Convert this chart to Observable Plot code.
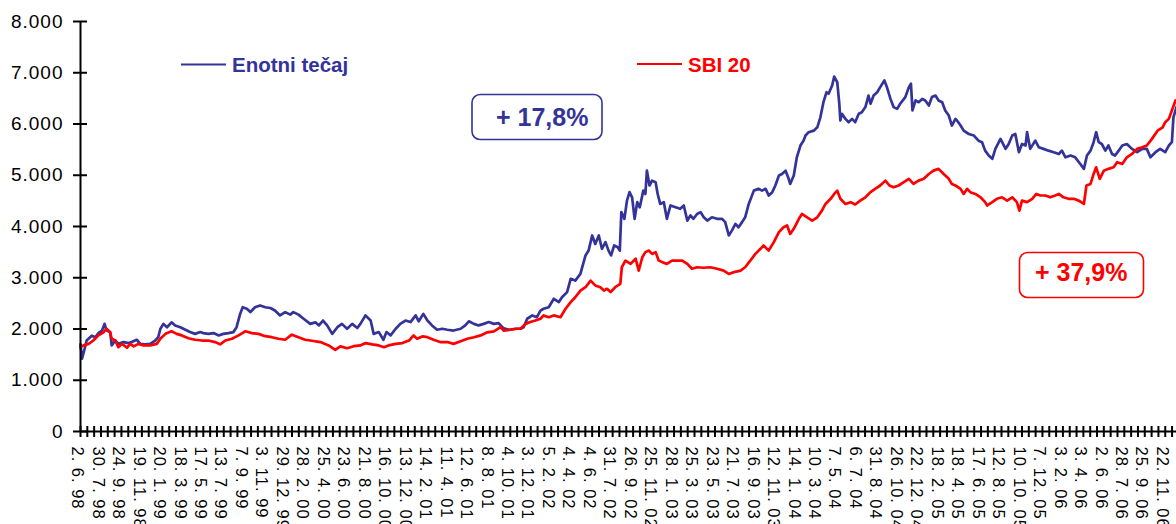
<!DOCTYPE html>
<html><head><meta charset="utf-8">
<script src="https://cdn.jsdelivr.net/npm/d3@7"></script>
<script src="https://cdn.jsdelivr.net/npm/@observablehq/plot@0.6"></script>
<style>
body{margin:0;background:#fff;}
#wrap{position:relative;width:1176px;height:524px;overflow:hidden;font-family:"Liberation Sans",Arial,sans-serif;}
g[aria-label="x-axis tick label"] text{letter-spacing:1px;}
g[aria-label="y-axis tick label"] text{letter-spacing:1px;}
#overlay{position:absolute;left:0;top:0;}
</style></head><body><div id="wrap"></div>
<script>
// trading-day index; one date label every 40 trading days
const labelStep = 40;
const lastDay = 2142;
const tickLabels = ["2. 6. 98","30. 7. 98","24. 9. 98","19. 11. 98","20. 1. 99","18. 3. 99","17. 5. 99","13. 7. 99","7. 9. 99","3. 11. 99","29. 12. 99","28. 2. 00","25. 4. 00","23. 6. 00","21. 8. 00","16. 10. 00","13. 12. 00","14. 2. 01","11. 4. 01","12. 6. 01","8. 8. 01","4. 10. 01","3. 12. 01","5. 2. 02","4. 4. 02","4. 6. 02","31. 7. 02","26. 9. 02","25. 11. 02","28. 1. 03","25. 3. 03","23. 5. 03","21. 7. 03","16. 9. 03","12. 11. 03","14. 1. 04","10. 3. 04","7. 5. 04","6. 7. 04","31. 8. 04","26. 10. 04","22. 12. 04","18. 2. 05","18. 4. 05","17. 6. 05","12. 8. 05","10. 10. 05","7. 12. 05","3. 2. 06","3. 4. 06","2. 6. 06","28. 7. 06","25. 9. 06","22. 11. 06"];
const yTicks = [0,1000,2000,3000,4000,5000,6000,7000,8000];

// [trading day, value]
const enotniTecaj = [[0,1700],[3,1420],[8,1610],[12,1775],[22,1870],[29,1840],[35,1920],[42,1970],[47,2100],[51,1970],[58,1940],[61,1680],[68,1775],[74,1710],[84,1745],[94,1725],[100,1745],[110,1790],[117,1710],[126,1700],[136,1710],[146,1775],[152,1840],[156,2000],[162,2100],[169,2035],[178,2130],[185,2070],[195,2035],[205,1985],[214,1940],[224,1905],[234,1940],[240,1920],[250,1905],[260,1920],[270,1875],[279,1905],[289,1920],[299,1940],[305,2035],[312,2295],[317,2425],[325,2395],[332,2330],[341,2425],[351,2460],[361,2425],[371,2410],[380,2360],[390,2265],[400,2330],[410,2280],[416,2330],[426,2280],[436,2200],[449,2100],[459,2130],[466,2070],[474,2165],[482,2070],[492,1905],[502,2035],[511,2100],[521,2005],[531,2100],[541,2020],[547,2100],[557,2265],[567,2165],[573,1905],[583,1940],[592,1790],[598,1940],[606,1875],[616,2005],[625,2100],[635,2165],[645,2135],[655,2265],[661,2150],[670,2295],[678,2165],[687,2070],[697,1985],[707,2005],[717,1985],[729,1970],[743,2005],[752,2070],[759,2150],[769,2100],[778,2070],[788,2100],[798,2135],[808,2100],[817,2115],[826,2020],[837,1985],[850,2005],[860,2005],[866,2035],[873,2200],[883,2265],[892,2230],[899,2360],[905,2395],[915,2425],[925,2590],[935,2525],[941,2620],[951,2720],[958,2980],[967,2945],[977,3075],[987,3435],[993,3530],[1000,3825],[1006,3660],[1013,3825],[1019,3565],[1026,3695],[1032,3530],[1037,3435],[1043,3630],[1050,3595],[1054,3530],[1057,4280],[1063,4150],[1068,4505],[1073,4670],[1078,4570],[1083,4150],[1088,4475],[1093,4375],[1100,4700],[1104,4635],[1107,5090],[1112,4800],[1117,4895],[1124,4865],[1128,4635],[1133,4440],[1140,4475],[1146,4150],[1153,4410],[1163,4375],[1172,4345],[1179,4410],[1186,4115],[1192,4215],[1198,4150],[1205,4245],[1212,4280],[1218,4180],[1225,4115],[1234,4180],[1244,4150],[1254,4150],[1260,4085],[1267,3825],[1273,3920],[1280,4050],[1286,3985],[1293,4085],[1299,4180],[1306,4440],[1316,4700],[1325,4735],[1332,4700],[1339,4735],[1345,4605],[1352,4670],[1358,4800],[1365,4995],[1371,5025],[1378,5090],[1384,4930],[1387,4830],[1394,4995],[1400,5350],[1407,5580],[1413,5675],[1417,5775],[1423,5840],[1433,5870],[1440,5935],[1446,6130],[1452,6425],[1458,6620],[1462,6590],[1469,6750],[1473,6925],[1479,6815],[1483,6395],[1485,6070],[1488,6200],[1495,6100],[1501,6035],[1508,6100],[1514,6035],[1521,6200],[1527,6230],[1534,6330],[1540,6555],[1544,6395],[1550,6555],[1557,6620],[1563,6720],[1571,6850],[1576,6720],[1583,6490],[1589,6330],[1596,6295],[1602,6395],[1612,6525],[1619,6720],[1623,6785],[1626,6265],[1632,6460],[1638,6425],[1645,6490],[1651,6460],[1658,6360],[1664,6525],[1671,6555],[1677,6460],[1684,6425],[1690,6265],[1697,6165],[1703,5970],[1710,6100],[1713,6070],[1720,5970],[1726,5870],[1736,5805],[1746,5775],[1755,5675],[1762,5645],[1768,5480],[1775,5385],[1782,5320],[1788,5515],[1798,5710],[1808,5515],[1814,5610],[1821,5775],[1827,5805],[1834,5450],[1840,5610],[1847,5580],[1850,5840],[1856,5515],[1866,5675],[1873,5545],[1882,5515],[1892,5480],[1902,5450],[1912,5415],[1918,5480],[1925,5350],[1935,5385],[1944,5350],[1954,5220],[1961,5125],[1967,5385],[1974,5480],[1980,5645],[1985,5840],[1990,5645],[1996,5610],[2003,5480],[2009,5580],[2016,5415],[2022,5385],[2029,5480],[2036,5580],[2045,5610],[2055,5515],[2065,5450],[2075,5515],[2084,5515],[2091,5350],[2101,5450],[2110,5515],[2120,5450],[2127,5580],[2133,5645],[2136,6130],[2142,6330]];

const sbi20 = [[0,1645],[6,1680],[16,1710],[25,1775],[35,1875],[45,1935],[51,2005],[58,1935],[61,1810],[68,1775],[74,1645],[81,1710],[91,1635],[97,1710],[104,1660],[113,1710],[123,1680],[136,1680],[149,1710],[156,1810],[166,1905],[178,1955],[188,1905],[198,1875],[211,1820],[224,1790],[237,1775],[250,1775],[263,1745],[273,1700],[283,1775],[296,1810],[309,1875],[322,1955],[335,1920],[348,1905],[361,1860],[374,1840],[387,1810],[400,1790],[413,1890],[426,1840],[439,1790],[449,1775],[469,1745],[485,1680],[498,1595],[508,1660],[521,1625],[534,1665],[547,1680],[557,1725],[570,1700],[583,1680],[593,1645],[602,1680],[616,1710],[629,1725],[642,1775],[651,1875],[658,1810],[668,1855],[678,1840],[690,1790],[703,1745],[717,1745],[729,1710],[743,1760],[756,1810],[769,1840],[782,1875],[795,1935],[808,1955],[821,2035],[827,1970],[840,1985],[853,2005],[860,2005],[870,2100],[879,2135],[889,2165],[899,2200],[905,2265],[915,2230],[925,2265],[938,2230],[948,2395],[958,2525],[967,2620],[977,2750],[987,2815],[997,2945],[1006,2850],[1016,2815],[1023,2750],[1029,2785],[1036,2720],[1045,2815],[1055,2880],[1058,3205],[1065,3335],[1075,3270],[1085,3370],[1091,3140],[1098,3400],[1104,3500],[1111,3530],[1117,3465],[1124,3500],[1130,3335],[1137,3305],[1146,3270],[1156,3335],[1166,3335],[1176,3335],[1186,3270],[1195,3175],[1205,3205],[1218,3195],[1231,3205],[1244,3175],[1257,3140],[1267,3075],[1277,3110],[1286,3130],[1290,3140],[1299,3205],[1309,3335],[1319,3465],[1329,3565],[1335,3630],[1345,3530],[1355,3695],[1365,3890],[1374,3985],[1381,4020],[1387,3855],[1394,3955],[1404,4150],[1410,4245],[1420,4180],[1430,4115],[1440,4180],[1449,4310],[1456,4440],[1466,4540],[1473,4635],[1479,4700],[1485,4540],[1495,4440],[1505,4475],[1514,4430],[1524,4505],[1534,4570],[1544,4670],[1553,4735],[1563,4800],[1573,4895],[1581,4800],[1589,4765],[1599,4800],[1609,4865],[1619,4930],[1628,4830],[1638,4895],[1648,4930],[1658,5025],[1667,5090],[1677,5125],[1687,5025],[1697,4930],[1703,4830],[1710,4800],[1720,4735],[1726,4635],[1733,4735],[1739,4670],[1749,4635],[1759,4570],[1768,4475],[1772,4410],[1782,4475],[1791,4540],[1801,4570],[1811,4505],[1821,4570],[1830,4475],[1835,4310],[1840,4505],[1850,4475],[1860,4540],[1868,4635],[1876,4605],[1886,4605],[1895,4570],[1905,4605],[1912,4635],[1921,4570],[1931,4540],[1941,4540],[1951,4505],[1961,4440],[1966,4800],[1974,4830],[1980,5025],[1985,5155],[1992,4930],[2000,5090],[2009,5125],[2019,5155],[2026,5255],[2036,5220],[2045,5350],[2055,5415],[2065,5515],[2075,5545],[2084,5580],[2094,5710],[2105,5870],[2115,5935],[2120,6035],[2127,6100],[2133,6265],[2140,6460]];

const seriesNames = ["Enotni tečaj", "SBI 20"];
const changeLabels = ["+ 17,8%", "+ 37,9%"];

const BLUE = "#333399", RED = "#ff0000";
const labelTicks = tickLabels.map((_, i) => i * labelStep);
const minorTicks = d3.range(0, lastDay, labelStep / 3);
const fmtY = d => d === 0 ? "0" : d3.format(",")(d).replace(/,/g, ".");

const plot = Plot.plot({
  width: 1176, height: 524,
  marginLeft: 80, marginRight: 0, marginTop: 21, marginBottom: 93,
  style: {fontFamily: '"Liberation Sans", Arial, sans-serif', background: "#fff", color: "#000", overflow: "visible"},
  x: {type: "linear", domain: [0, lastDay]},
  y: {domain: [0, 8000]},
  marks: [
    Plot.axisY({ticks: yTicks, tickSize: 14, dx: 7, tickFormat: () => "", strokeWidth: 2}),
    Plot.axisY({ticks: yTicks, tickSize: 0, tickPadding: 17, tickFormat: fmtY, fontSize: 19}),
    Plot.axisX({ticks: minorTicks, tickSize: 11, dy: -5, tickFormat: () => "", strokeWidth: 2}),
    Plot.axisX({ticks: labelTicks, tickSize: 0, tickPadding: 15, tickRotate: 90, dx: -3, fontSize: 16.5,
      tickFormat: d => tickLabels[Math.round(d / labelStep)]}),
    Plot.line(enotniTecaj, {x: d => d[0], y: d => d[1], stroke: BLUE, strokeWidth: 2.7}),
    Plot.line(sbi20, {x: d => d[0], y: d => d[1], stroke: RED, strokeWidth: 2.7}),
    Plot.ruleX([0], {stroke: "#000", strokeWidth: 2}),
    Plot.ruleY([0], {stroke: "#000", strokeWidth: 2})
  ]
});
const wrap = document.getElementById("wrap");
wrap.appendChild(plot);

// legend and change annotations overlay
const ov = d3.select(wrap).append("svg").attr("id", "overlay").attr("width", 1176).attr("height", 524)
  .style("font-family", '"Liberation Sans", Arial, sans-serif').style("font-weight", "bold");
ov.append("line").attr("x1", 181).attr("x2", 226).attr("y1", 64.5).attr("y2", 64.5).attr("stroke", BLUE).attr("stroke-width", 2);
ov.append("text").attr("x", 232).attr("y", 71.5).attr("font-size", 20.5).attr("fill", BLUE).text(seriesNames[0]);
ov.append("line").attr("x1", 637).attr("x2", 682).attr("y1", 64).attr("y2", 64).attr("stroke", RED).attr("stroke-width", 2);
ov.append("text").attr("x", 688).attr("y", 71.5).attr("font-size", 20.5).attr("fill", RED).text(seriesNames[1]);

ov.append("rect").attr("x", 472).attr("y", 94.5).attr("width", 130).attr("height", 45).attr("rx", 8)
  .attr("fill", "#fff").attr("stroke", BLUE).attr("stroke-width", 1.6);
ov.append("text").attr("x", 496).attr("y", 126).attr("font-size", 25).attr("fill", BLUE).text(changeLabels[0]);
ov.append("rect").attr("x", 1019.5).attr("y", 252.5).attr("width", 124).attr("height", 45).attr("rx", 8)
  .attr("fill", "#fff").attr("stroke", RED).attr("stroke-width", 1.6);
ov.append("text").attr("x", 1035).attr("y", 281).attr("font-size", 25).attr("fill", RED).text(changeLabels[1]);
</script></body></html>
